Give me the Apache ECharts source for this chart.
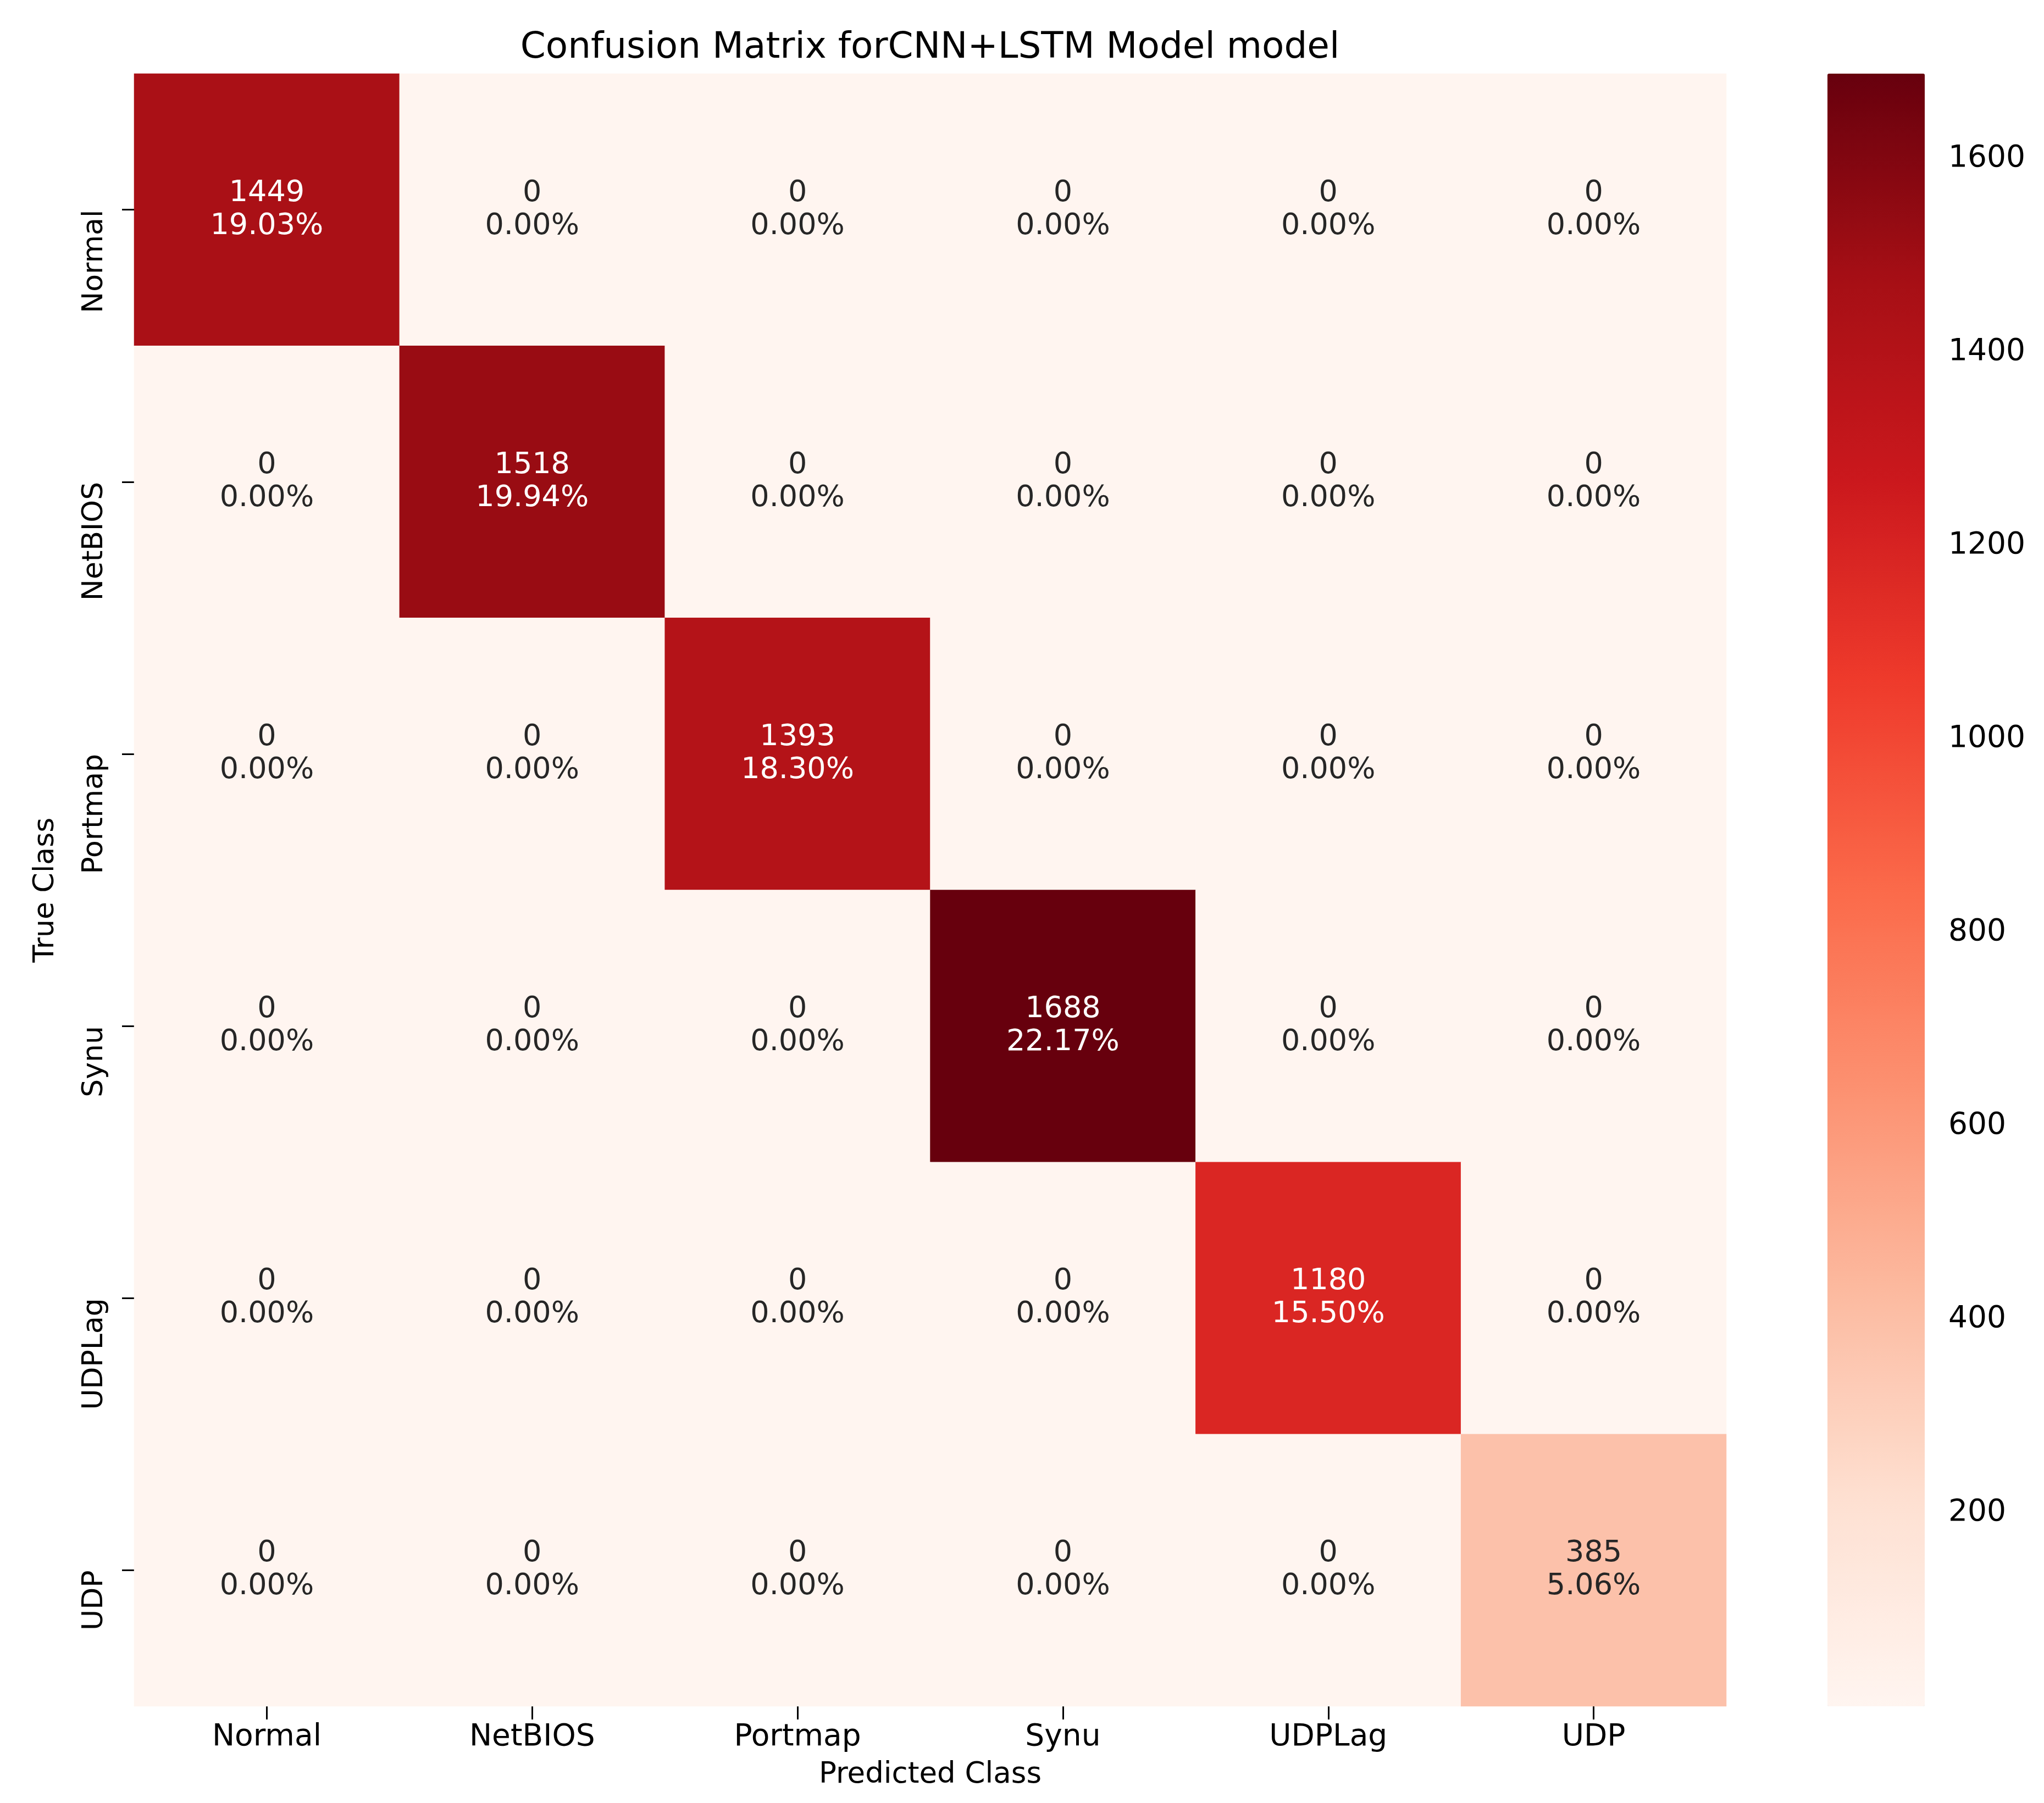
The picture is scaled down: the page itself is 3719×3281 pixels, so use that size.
<!DOCTYPE html>
<html><head><meta charset="utf-8">
<script src="https://cdn.jsdelivr.net/npm/echarts@6/dist/echarts.min.js"></script>
<style>html,body{margin:0;padding:0;background:#fff}#c{width:3719px;height:3281px}</style>
</head><body><div id="c"></div>
<script>
// ---- data ----
const classes = ['Normal', 'NetBIOS', 'Portmap', 'Synu', 'UDPLag', 'UDP'];
const trueNormal  = [1449, 0, 0, 0, 0, 0];
const trueNetBIOS = [0, 1518, 0, 0, 0, 0];
const truePortmap = [0, 0, 1393, 0, 0, 0];
const trueSynu    = [0, 0, 0, 1688, 0, 0];
const trueUDPLag  = [0, 0, 0, 0, 1180, 0];
const trueUDP     = [0, 0, 0, 0, 0, 385];
const colorbarTicks = [200, 400, 600, 800, 1000, 1200, 1400, 1600];
const titleText = 'Confusion Matrix forCNN+LSTM Model model';
const xName = 'Predicted Class';
const yName = 'True Class';

// ---- build ----
const rows = [trueNormal, trueNetBIOS, truePortmap, trueSynu, trueUDPLag, trueUDP];
let total = 0, vmax = -Infinity, vmin = Infinity;
rows.forEach(r => r.forEach(v => { total += v; vmax = Math.max(vmax, v); vmin = Math.min(vmin, v); }));
const reds = ['#fff5f0','#fee0d2','#fcbba1','#fc9272','#fb6a4a','#ef3b2c','#cb181d','#a50f15','#67000d'];
const data = [];
rows.forEach((r, yi) => r.forEach((v, xi) => {
  data.push({ value: [xi, yi, v], label: { color: (v - vmin) / (vmax - vmin) > 0.5 ? '#ffffff' : '#262626' } });
}));

const FONT = 'DejaVu Sans';
const G = { left: 244, top: 134, width: 2897, height: 2971 };
const CB = { left: 3325, top: 134, width: 177, height: 2971 };

const chart = echarts.init(document.getElementById('c'), null, { renderer: 'canvas' });
chart.setOption({
  backgroundColor: '#ffffff',
  animation: false,
  title: {
    text: titleText, left: 1692, top: 55, padding: 0, textAlign: 'center',
    textStyle: { fontFamily: FONT, fontSize: 66, fontWeight: 'normal', color: '#000' }
  },
  grid: [
    { left: G.left, top: G.top, width: G.width, height: G.height },
    { left: CB.left, top: CB.top, width: CB.width, height: CB.height }
  ],
  xAxis: [
    {
      type: 'category', data: classes, gridIndex: 0, position: 'bottom',
      axisLine: { show: false },
      axisTick: { show: true, alignWithLabel: true, length: 24, lineStyle: { color: '#000', width: 3 } },
      axisLabel: { margin: 29, fontFamily: FONT, fontSize: 55, color: '#000' },
      splitLine: { show: false },
      name: xName, nameLocation: 'middle', nameGap: 99,
      nameTextStyle: { fontFamily: FONT, fontSize: 53, color: '#000' }
    },
    { type: 'value', gridIndex: 1, show: false, min: 0, max: 1 }
  ],
  yAxis: [
    {
      type: 'category', data: classes, gridIndex: 0, inverse: true, position: 'left',
      axisLine: { show: false },
      axisTick: { show: true, alignWithLabel: true, length: 22, lineStyle: { color: '#000', width: 3 } },
      axisLabel: { rotate: 90, align: 'right', margin: 46, fontFamily: FONT, fontSize: 52, color: '#000' },
      splitLine: { show: false },
      name: yName, nameLocation: 'middle', nameGap: 135,
      nameTextStyle: { fontFamily: FONT, fontSize: 52, color: '#000' }
    },
    {
      type: 'value', gridIndex: 1, position: 'right', min: 0, max: vmax,
      axisLine: { show: false },
      splitLine: { show: false },
      axisTick: { show: true, length: 28, customValues: colorbarTicks, lineStyle: { color: '#000', width: 3 } },
      axisLabel: { margin: 43, customValues: colorbarTicks, formatter: v => String(v), fontFamily: FONT, fontSize: 55, color: '#000' }
    }
  ],
  visualMap: {
    type: 'continuous', seriesIndex: 0, min: vmin, max: vmax,
    calculable: false, hoverLink: false, orient: 'vertical',
    left: CB.left, top: CB.top, padding: 0,
    itemWidth: CB.width, itemHeight: CB.height,
    inRange: { color: reds }, text: null, showLabel: false
  },
  series: [
    {
      type: 'heatmap', xAxisIndex: 0, yAxisIndex: 0, data: data,
      label: {
        show: true, fontFamily: FONT, fontSize: 54, lineHeight: 60,
        formatter: p => p.value[2] + '\n' + (p.value[2] / total * 100).toFixed(2) + '%'
      },
      itemStyle: { borderWidth: 0 },
      emphasis: { disabled: true }
    },
    { type: 'scatter', xAxisIndex: 1, yAxisIndex: 1, data: [] }
  ]
});
</script></body></html>
